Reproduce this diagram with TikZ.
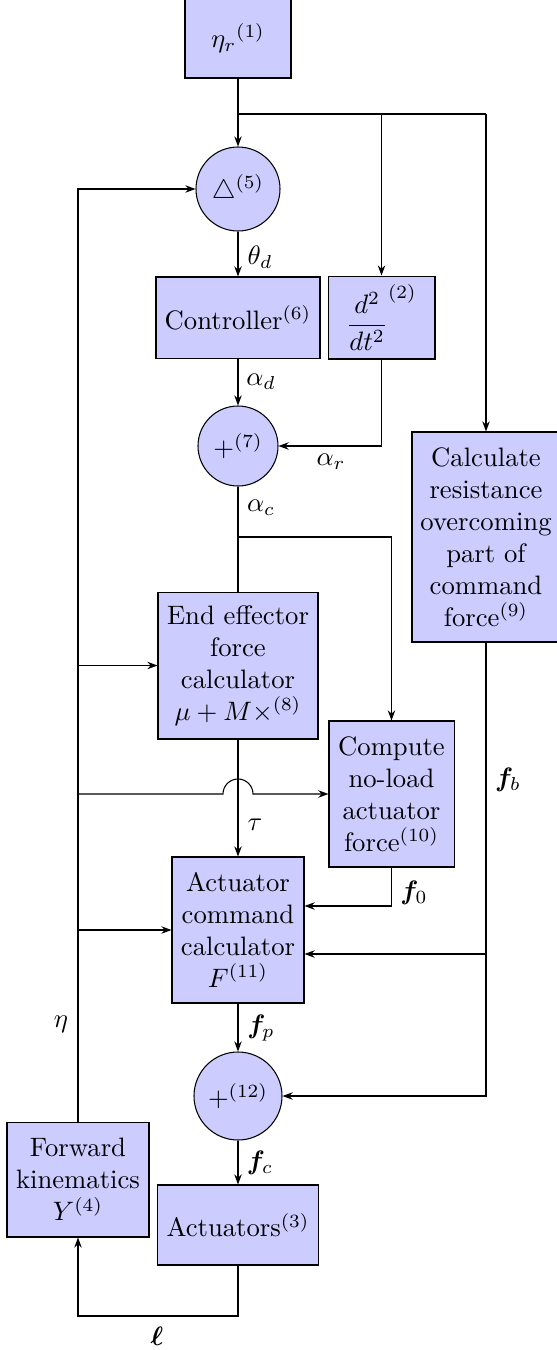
\documentclass[tikz,border=0pt]{standalone}
\usepackage{bm}
\usetikzlibrary{arrows.meta}
\begin{document}
\begin{tikzpicture}[x=0.375pt,y=-0.375pt,
  blk/.style={draw=black,fill=blue!20,align=center,inner sep=1pt,font=\normalsize},
  sumc/.style={draw=black,fill=blue!20,circle,inner sep=0pt},
  arr/.style={-{Stealth[length=3.8pt,width=2.8pt]}},
  ln/.style={line width=0.4pt},
  lbl/.style={inner sep=0pt}
]
\useasboundingbox (0,0) rectangle (557,1350);
% nodes
\node[blk,minimum width=39.75pt,minimum height=30pt] (etar) at (238,38) {${\eta_r}^{(1)}$};
\node[sumc,minimum size=31.5pt] (delta) at (238,189) {$\triangle^{(5)}$};
\node[blk,minimum width=61.5pt,minimum height=30.4pt] (ctrl) at (238,317.5) {Controller$^{(6)}$};
\node[blk,minimum width=40.1pt,minimum height=31.1pt] (dd) at (381.5,317.5) {$\displaystyle{\frac{d^2}{dt^2}}^{(2)}$};
\node[sumc,minimum size=30pt] (sum7) at (238,446) {$+^{(7)}$};
\node[blk,minimum width=55.5pt,minimum height=78.75pt] (calc) at (486,537) {Calculate\\resistance\\overcoming\\part of\\command\\force$^{(9)}$};
\node[blk,minimum width=60pt,minimum height=55.1pt] (eef) at (238,665.5) {End effector\\force\\calculator\\$\mu+M\times^{(8)}$};
\node[blk,minimum width=46.9pt,minimum height=54.75pt] (comp) at (391.5,794) {Compute\\no-load\\actuator\\force$^{(10)}$};
\node[blk,minimum width=49.5pt,minimum height=54.75pt] (cmd) at (238,930) {Actuator\\command\\calculator\\$F^{(11)}$};
\node[sumc,minimum size=33pt] (sum12) at (238,1096) {$+^{(12)}$};
\node[blk,minimum width=53.25pt,minimum height=43.1pt] (fk) at (78,1179.5) {Forward\\kinematics\\$Y^{(4)}$};
\node[blk,minimum width=60.4pt,minimum height=30pt] (act) at (238,1225) {Actuators$^{(3)}$};
% coordinates
\coordinate (J) at (238,114);
\coordinate (J2) at (381.5,114);
\coordinate (J3) at (486,114);
\coordinate (ar) at (381.5,446);
\coordinate (B7) at (238,537);
\coordinate (B7r) at (391.5,537);
\coordinate (f0c) at (391.5,906);
\coordinate (fbc) at (486,1096);
\coordinate (fbb) at (486,954);
\coordinate (Lb) at (238,1316);
\coordinate (Lc) at (78,1316);
\coordinate (Lt) at (78,189);
\coordinate (L1) at (78,665.5);
\coordinate (L2) at (78,794);
\coordinate (L3) at (78,930);
\coordinate (H1) at (223,794);
% connectors
\draw[ln] (etar.south) -- (J);
\draw[ln,arr] (J) -- (delta.north);
\draw[ln] (J) -- (J3);
\draw[ln,arr] (J2) -- (dd.north);
\draw[ln,arr] (J3) -- (calc.north);
\draw[ln,arr] (delta.south) -- (ctrl.north);
\draw[ln,arr] (ctrl.south) -- (sum7.north);
\draw[ln,arr] (dd.south) -- (ar) -- (sum7.east);
\draw[ln] (sum7.south) -- (eef.north);
\draw[ln,arr] (B7) -- (B7r) -- (comp.north);
\draw[ln,arr] (eef.south) -- (cmd.north);
\draw[ln,arr] (comp.south) -- (f0c) -- (cmd.east |- f0c);
\draw[ln,arr] (calc.south) -- (fbc) -- (sum12.east);
\draw[ln,arr] (fbb) -- (cmd.east |- fbb);
\draw[ln,arr] (cmd.south) -- (sum12.north);
\draw[ln,arr] (sum12.south) -- (act.north);
\draw[ln,arr] (act.south) -- (Lb) -- (Lc) -- (fk.south);
\draw[ln,arr] (fk.north) -- (Lt) -- (delta.west);
\draw[ln,arr] (L1) -- (eef.west);
\draw[ln,arr] (L2) -- (H1) arc[start angle=180,end angle=0,radius=5.625pt] -- (comp.west);
\draw[ln,arr] (L3) -- (cmd.west);
% labels
\node[lbl] (lth) at (260,257) {$\theta_d$};
\node[lbl] (lad) at (261,382) {$\alpha_d$};
\node[lbl] (lar) at (331,462) {$\alpha_r$};
\node[lbl] (lac) at (261,508) {$\alpha_c$};
\node[lbl] (ltau) at (255,825) {$\tau$};
\node[lbl] (lfb) at (508,780) {$\bm{f}_b$};
\node[lbl] (lf0) at (414,893) {$\bm{f}_0$};
\node[lbl] (lfp) at (261,1028) {$\bm{f}_p$};
\node[lbl] (lfc) at (260,1163) {$\bm{f}_c$};
\node[lbl] (leta) at (61,1024) {$\eta$};
\node[lbl] (lell) at (157,1336) {$\bm{\ell}$};
\end{tikzpicture}
\end{document}
